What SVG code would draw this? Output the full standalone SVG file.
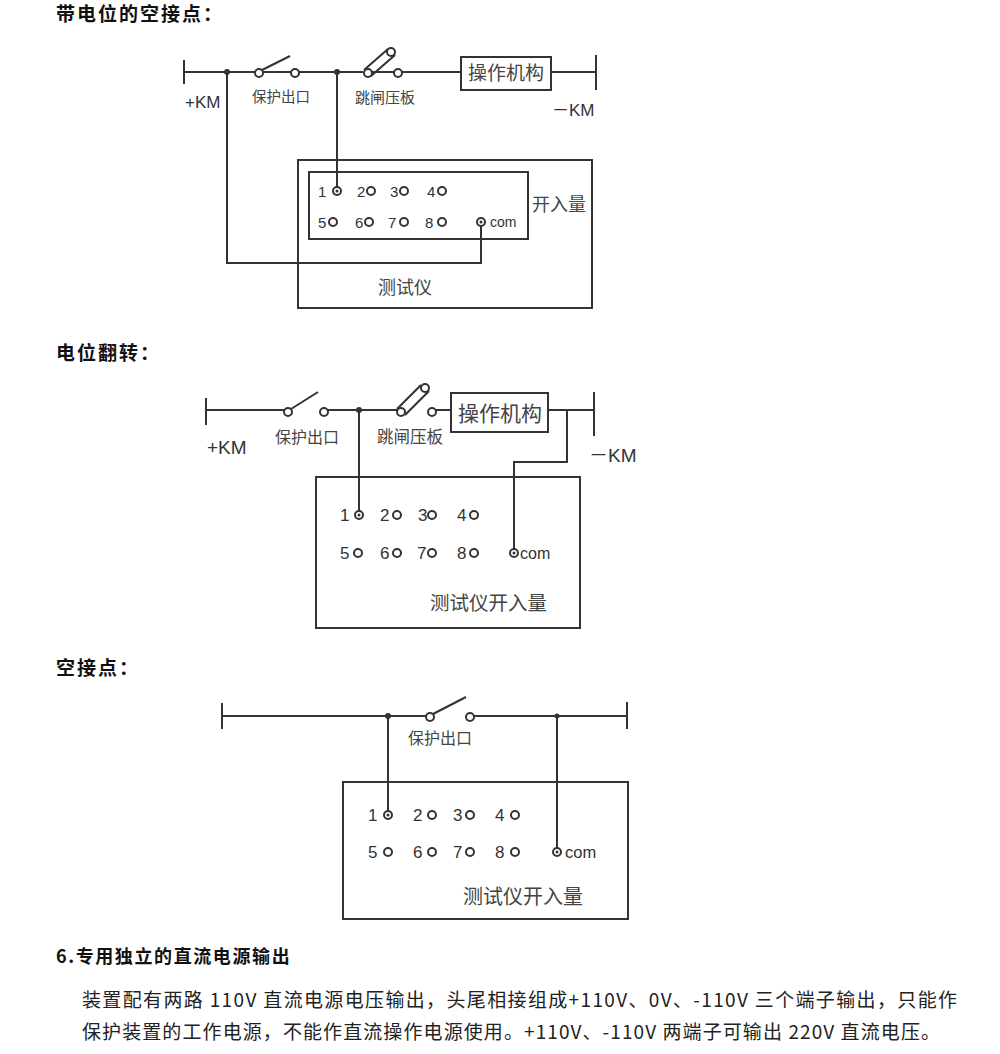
<svg xmlns="http://www.w3.org/2000/svg" xmlns:xlink="http://www.w3.org/1999/xlink" width="1000" height="1054" viewBox="0 0 1000 1054">
<style>
.w{fill:none;stroke:#333;stroke-width:2}
.t{fill:#fff;stroke:#333;stroke-width:2}
.d{fill:#333}
.h{font-family:"Noto Sans CJK SC","Liberation Sans",sans-serif;font-weight:bold;font-size:19px;letter-spacing:2px;fill:#111}
.l{font-family:"Noto Sans CJK SC","Liberation Sans",sans-serif;fill:#444}
.n{font-family:"Liberation Sans","Noto Sans CJK SC",sans-serif;fill:#333}
.p{font-family:"Noto Sans CJK SC","Liberation Sans",sans-serif;font-size:19px;fill:#222}
</style>
<defs>
<circle id="o" r="4" class="t"/>
</defs>
<rect width="1000" height="1054" fill="#fff"/>

<text class="h" x="56" y="21">带电位的空接点：</text>
<text class="h" x="56" y="360">电位翻转：</text>
<text class="h" x="56" y="675">空接点：</text>
<text class="h" x="56" y="963" style="font-size:18px;letter-spacing:1.6px">6.专用独立的直流电源输出</text>

<!-- Diagram 1 -->
<g id="connectors1">
<path class="w" d="M184 60V84M184 72H255M263 72H363M372 72H394M402 72H461M551 72H596M596 55V90"/>
<path class="w" d="M262 70L290 56"/>
<path class="w" d="M364 70L388 49M371 76L395 55"/>
<path class="w" d="M227 72V263H481V222M337 72V191"/>
<circle class="d" cx="227" cy="72" r="3"/>
<circle class="d" cx="337" cy="72" r="3"/>
</g>
<g id="sw1a"><use xlink:href="#o" x="259" y="73"/><use xlink:href="#o" x="295" y="73"/><text class="l" x="252" y="102" font-size="14.5">保护出口</text></g>
<g id="sw1b"><use xlink:href="#o" x="368" y="73"/><use xlink:href="#o" x="391" y="52"/><use xlink:href="#o" x="398" y="73"/><text class="l" x="355" y="103" font-size="15">跳闸压板</text></g>
<g id="op1"><rect class="w" x="461" y="57" width="90" height="33"/><text class="l" x="506" y="80" font-size="19" text-anchor="middle">操作机构</text></g>
<g id="km1"><text class="n" x="185" y="108" font-size="17">+KM</text><text class="n" x="552" y="116" font-size="17">－KM</text></g>
<g id="box1">
<rect class="w" x="298" y="160" width="294" height="148"/>
<rect class="w" x="309" y="172" width="219" height="67"/>
<g class="n" font-size="15">
<text x="318" y="197">1</text><text x="357" y="197">2</text><text x="390" y="197">3</text><text x="427" y="197">4</text>
<text x="318" y="228">5</text><text x="355" y="228">6</text><text x="388" y="228">7</text><text x="425" y="228">8</text>
<text x="490" y="227" font-size="14">com</text>
</g>
<use xlink:href="#o" x="337" y="191"/><use xlink:href="#o" x="371" y="191"/><use xlink:href="#o" x="404" y="191"/><use xlink:href="#o" x="442" y="191"/>
<use xlink:href="#o" x="333" y="222"/><use xlink:href="#o" x="369" y="222"/><use xlink:href="#o" x="404" y="222"/><use xlink:href="#o" x="442" y="222"/><use xlink:href="#o" x="481" y="222"/>
<circle class="d" cx="337" cy="191" r="1.5"/><circle class="d" cx="481" cy="222" r="1.5"/>
<text class="l" x="532" y="211" font-size="18">开入量</text>
<text class="l" x="378" y="294" font-size="18">测试仪</text>
</g>

<!-- Diagram 2 -->
<g id="connectors2">
<path class="w" d="M206 398V425M206 410H284M328 410H397M436 410H451M548 410H594M594 392V436"/>
<path class="w" d="M291 409L318 392"/>
<path class="w" d="M397 409L421 385M405 415L429 391"/>
<path class="w" d="M359 410V515M567 410V462H514V553"/>
<circle class="d" cx="359" cy="410" r="3"/>
</g>
<g id="sw2a"><use xlink:href="#o" x="288" y="412"/><use xlink:href="#o" x="324" y="412"/><text class="l" x="275" y="443" font-size="16">保护出口</text></g>
<g id="sw2b"><use xlink:href="#o" x="401" y="412"/><use xlink:href="#o" x="425" y="388"/><use xlink:href="#o" x="432" y="412"/><text class="l" x="377" y="443" font-size="16.5">跳闸压板</text></g>
<g id="op2"><rect class="w" x="451" y="393" width="97" height="39"/><text class="l" x="500" y="421" font-size="21" text-anchor="middle">操作机构</text></g>
<g id="km2"><text class="n" x="207" y="454" font-size="19">+KM</text><text class="n" x="589" y="462" font-size="19">－KM</text></g>
<g id="box2">
<rect class="w" x="316" y="477" width="264" height="151"/>
<g class="n" font-size="17">
<text x="340" y="521">1</text><text x="380" y="521">2</text><text x="418" y="521">3</text><text x="457" y="521">4</text>
<text x="340" y="559">5</text><text x="380" y="559">6</text><text x="417" y="559">7</text><text x="457" y="559">8</text>
<text x="520" y="559" font-size="16">com</text>
</g>
<use xlink:href="#o" x="359" y="515"/><use xlink:href="#o" x="397" y="515"/><use xlink:href="#o" x="432" y="515"/><use xlink:href="#o" x="474" y="515"/>
<use xlink:href="#o" x="358" y="553"/><use xlink:href="#o" x="397" y="553"/><use xlink:href="#o" x="432" y="553"/><use xlink:href="#o" x="474" y="553"/><use xlink:href="#o" x="514" y="553"/>
<circle class="d" cx="359" cy="515" r="1.5"/><circle class="d" cx="514" cy="553" r="1.5"/>
<text class="l" x="430" y="610" font-size="19.5">测试仪开入量</text>
</g>

<!-- Diagram 3 -->
<g id="connectors3">
<path class="w" d="M222 703V729M222 716H426M474 716H627M627 702V729"/>
<path class="w" d="M433 714L466 697"/>
<path class="w" d="M388 716V815M557 716V851"/>
<circle class="d" cx="388" cy="716" r="3"/>
<circle class="d" cx="557" cy="716" r="2.5"/>
</g>
<g id="sw3"><use xlink:href="#o" x="430" y="717"/><use xlink:href="#o" x="470" y="717"/><text class="l" x="408" y="744" font-size="16">保护出口</text></g>
<g id="box3">
<rect class="w" x="343" y="782" width="285" height="137"/>
<g class="n" font-size="17">
<text x="368" y="821">1</text><text x="413" y="821">2</text><text x="453" y="821">3</text><text x="495" y="821">4</text>
<text x="368" y="858">5</text><text x="413" y="858">6</text><text x="453" y="858">7</text><text x="495" y="858">8</text>
<text x="565" y="858" font-size="16.5">com</text>
</g>
<use xlink:href="#o" x="388" y="815"/><use xlink:href="#o" x="432" y="815"/><use xlink:href="#o" x="470" y="815"/><use xlink:href="#o" x="515" y="815"/>
<use xlink:href="#o" x="388" y="852"/><use xlink:href="#o" x="432" y="852"/><use xlink:href="#o" x="470" y="852"/><use xlink:href="#o" x="515" y="852"/><use xlink:href="#o" x="557" y="852"/>
<circle class="d" cx="388" cy="815" r="1.5"/><circle class="d" cx="557" cy="852" r="1.5"/>
<text class="l" x="463" y="904" font-size="20">测试仪开入量</text>
</g>

<text class="p" x="82" y="1007" textLength="875" lengthAdjust="spacing">装置配有两路 110V 直流电源电压输出，头尾相接组成+110V、0V、-110V 三个端子输出，只能作</text>
<text class="p" x="82" y="1039" textLength="858" lengthAdjust="spacing">保护装置的工作电源，不能作直流操作电源使用。+110V、-110V 两端子可输出 220V 直流电压。</text>
</svg>
